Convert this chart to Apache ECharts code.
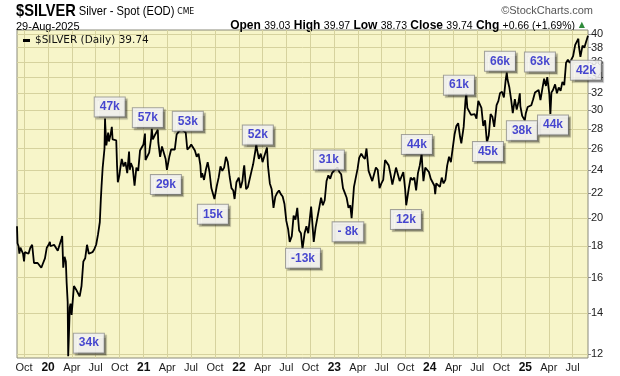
<!DOCTYPE html>
<html>
<head>
<meta charset="utf-8">
<script src="https://cdn.jsdelivr.net/npm/echarts@6/dist/echarts.min.js"></script>
<style>
  html, body { margin: 0; padding: 0; background: #fff; }
  #chart { width: 620px; height: 376px; }
</style>
</head>
<body>
<div id="chart"></div>
<script>
// closes (roughly weekly, extra points on the spikes)
const prices = [
  ["2019-09-04", 19.4], ["2019-09-06", 18.2], ["2019-09-10", 18.0], ["2019-09-13", 17.5], ["2019-09-17", 17.9],
  ["2019-09-20", 17.9], ["2019-09-24", 18.0], ["2019-09-27", 17.5], ["2019-10-01", 17.0], ["2019-10-04", 17.6],
  ["2019-10-11", 17.5], ["2019-10-18", 17.5], ["2019-10-25", 17.9], ["2019-11-01", 18.1], ["2019-11-08", 16.9],
  ["2019-11-15", 16.9], ["2019-11-22", 16.9], ["2019-11-29", 17.0], ["2019-12-06", 16.6], ["2019-12-13", 16.9],
  ["2019-12-20", 17.2], ["2019-12-27", 17.9],
  ["2020-01-03", 18.1], ["2020-01-08", 18.3], ["2020-01-10", 18.0], ["2020-01-17", 18.0], ["2020-01-24", 18.1],
  ["2020-01-31", 18.0], ["2020-02-07", 17.7], ["2020-02-14", 17.6], ["2020-02-21", 18.5], ["2020-02-24", 18.7],
  ["2020-02-28", 16.6], ["2020-03-04", 17.3], ["2020-03-09", 17.0], ["2020-03-12", 15.7], ["2020-03-16", 14.6],
  ["2020-03-18", 11.9], ["2020-03-20", 12.6], ["2020-03-24", 14.3], ["2020-03-27", 14.5], ["2020-03-31", 13.9],
  ["2020-04-03", 14.0], ["2020-04-09", 15.5], ["2020-04-17", 15.3], ["2020-04-24", 15.2], ["2020-05-01", 14.9],
  ["2020-05-08", 15.5], ["2020-05-15", 17.0], ["2020-05-22", 17.2], ["2020-05-29", 18.1], ["2020-06-05", 17.5],
  ["2020-06-12", 17.6], ["2020-06-19", 17.6], ["2020-06-26", 17.8], ["2020-07-03", 18.1], ["2020-07-10", 18.8],
  ["2020-07-17", 19.7], ["2020-07-21", 21.5], ["2020-07-24", 22.7], ["2020-07-28", 24.2], ["2020-07-31", 24.3],
  ["2020-08-04", 26.0], ["2020-08-06", 29.1], ["2020-08-07", 28.4], ["2020-08-11", 26.3], ["2020-08-14", 26.4],
  ["2020-08-18", 27.6], ["2020-08-21", 26.7], ["2020-08-28", 27.5], ["2020-09-01", 28.2], ["2020-09-04", 26.9],
  ["2020-09-11", 26.7], ["2020-09-18", 26.8], ["2020-09-21", 24.4], ["2020-09-24", 22.9], ["2020-09-30", 23.5],
  ["2020-10-02", 23.9], ["2020-10-09", 25.0], ["2020-10-16", 24.3], ["2020-10-23", 24.7], ["2020-10-30", 23.7],
  ["2020-11-06", 25.7], ["2020-11-09", 24.0], ["2020-11-13", 24.6], ["2020-11-20", 24.2], ["2020-11-27", 22.6],
  ["2020-11-30", 22.6], ["2020-12-04", 24.2], ["2020-12-11", 23.9], ["2020-12-18", 25.8], ["2020-12-24", 25.9],
  ["2020-12-31", 26.4],
  ["2021-01-06", 27.5], ["2021-01-08", 24.9], ["2021-01-15", 24.8], ["2021-01-22", 25.6], ["2021-01-29", 26.9],
  ["2021-02-01", 28.0], ["2021-02-05", 26.9], ["2021-02-12", 27.3], ["2021-02-19", 27.2], ["2021-02-24", 27.9],
  ["2021-02-26", 26.6], ["2021-03-05", 25.2], ["2021-03-12", 26.2], ["2021-03-19", 26.3], ["2021-03-26", 25.0],
  ["2021-03-31", 24.0], ["2021-04-09", 25.2], ["2021-04-16", 25.9], ["2021-04-23", 26.0], ["2021-04-30", 25.9],
  ["2021-05-07", 27.4], ["2021-05-14", 27.4], ["2021-05-18", 27.8], ["2021-05-21", 27.6], ["2021-05-28", 27.9],
  ["2021-06-04", 27.7], ["2021-06-11", 27.6], ["2021-06-17", 25.9], ["2021-06-25", 26.1], ["2021-07-02", 26.4],
  ["2021-07-09", 26.1], ["2021-07-16", 25.8], ["2021-07-23", 25.2], ["2021-07-30", 25.5], ["2021-08-06", 24.4],
  ["2021-08-09", 23.3], ["2021-08-13", 23.7], ["2021-08-20", 23.1], ["2021-08-27", 24.0], ["2021-09-03", 24.7],
  ["2021-09-10", 23.8], ["2021-09-17", 22.4], ["2021-09-24", 22.5], ["2021-09-29", 21.5], ["2021-10-08", 22.6],
  ["2021-10-15", 23.3], ["2021-10-22", 24.3], ["2021-10-29", 23.9], ["2021-11-05", 24.2], ["2021-11-12", 25.2],
  ["2021-11-16", 25.3], ["2021-11-19", 24.7], ["2021-11-26", 23.4], ["2021-12-03", 22.4], ["2021-12-10", 22.2],
  ["2021-12-15", 21.5], ["2021-12-22", 22.9], ["2021-12-31", 23.3],
  ["2022-01-07", 22.4], ["2022-01-14", 23.0], ["2022-01-19", 24.1], ["2022-01-21", 24.4], ["2022-01-28", 22.3],
  ["2022-02-04", 22.5], ["2022-02-11", 23.2], ["2022-02-18", 23.9], ["2022-02-24", 24.5], ["2022-03-04", 25.7],
  ["2022-03-08", 26.4], ["2022-03-11", 25.9], ["2022-03-18", 25.0], ["2022-03-25", 25.5], ["2022-04-01", 24.7],
  ["2022-04-08", 24.8], ["2022-04-18", 26.1], ["2022-04-22", 24.3], ["2022-04-29", 22.8], ["2022-05-06", 22.3],
  ["2022-05-13", 20.8], ["2022-05-20", 21.7], ["2022-05-27", 22.0], ["2022-06-03", 22.2], ["2022-06-10", 21.9],
  ["2022-06-17", 21.7], ["2022-06-24", 21.1], ["2022-07-01", 19.8], ["2022-07-08", 19.2], ["2022-07-14", 18.3],
  ["2022-07-22", 18.7], ["2022-07-29", 20.2], ["2022-08-05", 19.9], ["2022-08-12", 20.8], ["2022-08-19", 19.1],
  ["2022-08-26", 18.9], ["2022-09-01", 17.8], ["2022-09-09", 18.9], ["2022-09-16", 19.4], ["2022-09-23", 18.9],
  ["2022-09-30", 19.0], ["2022-10-04", 20.9], ["2022-10-07", 20.1], ["2022-10-14", 18.3], ["2022-10-21", 19.3],
  ["2022-10-28", 19.2], ["2022-11-04", 20.8], ["2022-11-11", 21.6], ["2022-11-18", 21.0], ["2022-11-25", 21.4],
  ["2022-12-02", 23.0], ["2022-12-09", 23.5], ["2022-12-16", 23.2], ["2022-12-23", 23.7], ["2022-12-30", 23.9],
  ["2023-01-06", 23.9], ["2023-01-13", 24.2], ["2023-01-20", 23.8], ["2023-01-27", 23.6], ["2023-02-03", 22.4],
  ["2023-02-10", 22.0], ["2023-02-17", 21.6], ["2023-02-24", 20.8], ["2023-03-03", 21.0], ["2023-03-08", 20.0],
  ["2023-03-10", 20.5], ["2023-03-17", 22.5], ["2023-03-24", 23.3], ["2023-03-31", 24.1], ["2023-04-06", 25.1],
  ["2023-04-14", 25.5], ["2023-04-21", 25.2], ["2023-04-28", 25.0], ["2023-05-04", 26.0], ["2023-05-12", 23.9],
  ["2023-05-19", 23.8], ["2023-05-26", 23.0], ["2023-06-02", 23.6], ["2023-06-09", 24.2], ["2023-06-16", 24.0],
  ["2023-06-23", 22.4], ["2023-06-30", 22.8], ["2023-07-07", 23.1], ["2023-07-14", 24.9], ["2023-07-20", 25.0],
  ["2023-07-28", 24.4], ["2023-08-04", 23.6], ["2023-08-11", 22.7], ["2023-08-18", 22.8], ["2023-08-25", 24.2],
  ["2023-09-01", 24.2], ["2023-09-08", 23.0], ["2023-09-15", 23.0], ["2023-09-22", 23.8], ["2023-09-29", 22.3],
  ["2023-10-03", 21.0], ["2023-10-06", 21.4], ["2023-10-13", 22.4], ["2023-10-20", 23.3], ["2023-10-27", 23.1],
  ["2023-11-03", 23.3], ["2023-11-10", 22.2], ["2023-11-17", 23.7], ["2023-11-24", 24.4], ["2023-12-01", 25.5],
  ["2023-12-04", 24.3], ["2023-12-08", 23.0], ["2023-12-15", 24.2], ["2023-12-22", 24.2], ["2023-12-29", 23.8],
  ["2024-01-05", 23.2], ["2024-01-12", 23.2], ["2024-01-19", 22.6], ["2024-01-22", 21.9], ["2024-01-26", 22.8],
  ["2024-02-02", 22.8], ["2024-02-09", 22.5], ["2024-02-16", 23.3], ["2024-02-23", 22.8], ["2024-03-01", 23.1],
  ["2024-03-08", 24.4], ["2024-03-15", 25.2], ["2024-03-22", 24.7], ["2024-03-28", 24.8], ["2024-04-05", 27.4],
  ["2024-04-12", 28.3], ["2024-04-19", 28.6], ["2024-04-26", 27.2], ["2024-05-01", 26.5], ["2024-05-03", 26.6],
  ["2024-05-10", 28.2], ["2024-05-17", 31.2], ["2024-05-20", 32.0], ["2024-05-24", 30.3], ["2024-05-31", 30.4],
  ["2024-06-07", 29.5], ["2024-06-14", 29.6], ["2024-06-21", 29.6], ["2024-06-28", 29.1], ["2024-07-05", 31.1],
  ["2024-07-10", 31.2], ["2024-07-17", 30.3], ["2024-07-24", 28.3], ["2024-07-31", 28.9], ["2024-08-07", 26.6],
  ["2024-08-14", 27.3], ["2024-08-21", 29.6], ["2024-08-28", 29.3], ["2024-09-04", 28.2], ["2024-09-06", 28.0],
  ["2024-09-13", 30.6], ["2024-09-20", 31.1], ["2024-09-26", 32.0], ["2024-10-04", 32.2], ["2024-10-11", 31.5],
  ["2024-10-18", 33.7], ["2024-10-22", 34.6], ["2024-10-25", 33.7], ["2024-11-01", 32.7], ["2024-11-08", 31.2],
  ["2024-11-14", 29.7], ["2024-11-22", 31.3], ["2024-11-29", 30.1], ["2024-12-06", 31.0], ["2024-12-11", 32.0],
  ["2024-12-13", 30.5], ["2024-12-20", 29.4], ["2024-12-30", 28.9],
  ["2025-01-03", 29.7], ["2025-01-10", 30.4], ["2025-01-17", 30.4], ["2025-01-24", 30.6], ["2025-01-31", 31.3],
  ["2025-02-07", 32.1], ["2025-02-14", 32.1], ["2025-02-21", 32.4], ["2025-02-28", 31.2], ["2025-03-07", 32.5],
  ["2025-03-14", 33.8], ["2025-03-21", 32.9], ["2025-03-26", 34.0], ["2025-03-28", 34.2], ["2025-04-03", 31.9],
  ["2025-04-07", 29.6], ["2025-04-11", 32.1], ["2025-04-17", 32.4], ["2025-04-25", 33.1], ["2025-05-02", 32.0],
  ["2025-05-09", 32.7], ["2025-05-16", 32.3], ["2025-05-23", 33.4], ["2025-05-30", 33.0], ["2025-06-06", 35.9],
  ["2025-06-13", 36.3], ["2025-06-20", 35.9], ["2025-06-27", 36.0], ["2025-07-03", 36.8], ["2025-07-11", 38.4],
  ["2025-07-18", 38.2], ["2025-07-23", 39.3], ["2025-07-25", 38.2], ["2025-07-31", 36.7], ["2025-08-08", 38.3],
  ["2025-08-15", 38.0], ["2025-08-22", 38.9], ["2025-08-27", 38.7], ["2025-08-29", 39.74]
];

// right axis (log scale) tick values
const yTicks = [12, 14, 16, 18, 20, 22, 24, 26, 28, 30, 32, 34, 36, 38, 40];

// bottom axis: quarter starts
const xTicks = [
  "2019-10-01", "2020-01-01", "2020-04-01", "2020-07-01", "2020-10-01", "2021-01-01", "2021-04-01", "2021-07-01",
  "2021-10-01", "2022-01-01", "2022-04-01", "2022-07-01", "2022-10-01", "2023-01-01", "2023-04-01", "2023-07-01",
  "2023-10-01", "2024-01-01", "2024-04-01", "2024-07-01", "2024-10-01", "2025-01-01", "2025-04-01", "2025-07-01"
];
const monthNames = ["Jan", "Feb", "Mar", "Apr", "May", "Jun", "Jul", "Aug", "Sep", "Oct", "Nov", "Dec"];

// annotation boxes (where the box sits, in date / price)
const noteText = ["34k", "47k", "57k", "29k", "53k", "15k", "52k", "-13k", "31k", "- 8k",
  "12k", "44k", "61k", "45k", "66k", "38k", "63k", "44k", "42k"];
const noteDate = ["2020-06-05", "2020-08-24", "2021-01-17", "2021-03-27", "2021-06-19", "2021-09-23",
  "2022-03-14", "2022-09-03", "2022-12-11", "2023-02-22", "2023-10-02", "2023-11-13", "2024-04-22",
  "2024-08-11", "2024-09-26", "2024-12-19", "2025-02-26", "2025-04-17", "2025-08-21"];
const notePrice = [12.5, 30.4, 29.2, 22.7, 28.8, 20.3, 27.35, 17.2, 24.9, 19.0,
  19.9, 26.4, 33.0, 25.7, 36.1, 27.8, 36.0, 28.4, 34.9];

const seriesName = "$SILVER (Daily) 39.74";
const pxPerLn = 265.8; // pixels per unit of ln(price) on the right axis

// "YYYY-MM-DD" -> local timestamp
function ts(s) {
  const p = s.split("-");
  return new Date(+p[0], +p[1] - 1, +p[2]).getTime();
}

let chart = echarts.init(document.getElementById("chart"));

let option = {
  animation: false,
  backgroundColor: "#ffffff",
  textStyle: { fontFamily: "Liberation Sans, Arial, sans-serif" },
  grid: {
    left: 17, right: 32, top: 30, bottom: 18,
    show: true,
    backgroundColor: "#f7f5c9",
    borderColor: "#8a8a7a",
    borderWidth: 1
  },
  legend: {
    left: 18, top: 30,
    icon: "rect",
    itemWidth: 7, itemHeight: 3, itemGap: 4,
    data: [seriesName],
    textStyle: { fontFamily: "DejaVu Sans, Verdana, sans-serif", fontSize: 10.5, color: "#111" }
  },
  xAxis: {
    type: "value",
    min: ts("2019-09-04"),
    max: ts("2025-08-29"),
    axisLine: { show: false },
    axisTick: { show: true, length: 0, customValues: xTicks.map(ts) },
    splitLine: { show: true, lineStyle: { color: "#d6d29e", width: 1 } },
    axisLabel: {
      customValues: xTicks.map(ts),
      margin: 4,
      color: "#222",
      fontSize: 11,
      formatter: function (v) {
        const d = new Date(v);
        if (d.getMonth() === 0) return "{yr|" + String(d.getFullYear()).slice(2) + "}";
        return monthNames[d.getMonth()];
      },
      rich: { yr: { fontWeight: "bold", fontSize: 12, color: "#111" } }
    }
  },
  yAxis: {
    type: "value",
    position: "right",
    min: Math.log(12) - 4 / pxPerLn,
    max: Math.log(40) + 4 / pxPerLn,
    axisLine: { show: false },
    axisTick: { show: true, length: 3, lineStyle: { color: "#888" }, customValues: yTicks.map(Math.log) },
    splitLine: { show: true, lineStyle: { color: "#d6d29e", width: 1 } },
    axisLabel: {
      customValues: yTicks.map(Math.log),
      margin: 3,
      color: "#222",
      fontSize: 11,
      formatter: function (v) { return Math.round(Math.exp(v)); }
    }
  },
  graphic: [
    {
      type: "text", left: 16, top: 3, scaleX: 0.86,
      style: {
        text: "{a|$SILVER} {b|Silver - Spot (EOD)} {c|CME}",
        rich: {
          a: { fontFamily: "Liberation Sans, Arial", fontWeight: "bold", fontSize: 17, fill: "#000" },
          b: { fontFamily: "Liberation Sans, Arial", fontSize: 13, fill: "#000" },
          c: { fontFamily: "DejaVu Sans, sans-serif", fontSize: 9, fill: "#000" }
        }
      }
    },
    {
      type: "text", left: 16, top: 21,
      style: { text: "29-Aug-2025", font: "11px Liberation Sans, Arial", fill: "#000" }
    },
    {
      type: "text", right: 45, top: 20,
      style: {
        text: "{k|Open} {v|39.03} {k|High} {v|39.97} {k|Low} {v|38.73} {k|Close} {v|39.74} {k|Chg} {v|+0.66 (+1.69%)}",
        rich: {
          k: { fontFamily: "Liberation Sans, Arial", fontWeight: "bold", fontSize: 12, fill: "#000" },
          v: { fontFamily: "Liberation Sans, Arial", fontSize: 10.5, fill: "#000" }
        }
      }
    },
    {
      type: "text", right: 35, top: 21,
      style: { text: "\u25B2", font: "8px DejaVu Sans", fill: "#2e8b3a" }
    },
    {
      type: "text", right: 27, top: 5,
      style: { text: "\u00A9StockCharts.com", font: "11px Liberation Sans, Arial", fill: "#555" }
    }
  ],
  series: [
    {
      name: seriesName,
      type: "line",
      data: prices.map(function (p) { return [ts(p[0]), Math.log(p[1])]; }),
      showSymbol: false,
      symbol: "none",
      color: "#000",
      lineStyle: { color: "#000", width: 1.8 },
      z: 3
    },
    {
      type: "scatter",
      silent: true,
      symbolSize: 0,
      z: 5,
      data: noteText.map(function (t, i) {
        return { name: t, value: [ts(noteDate[i]), Math.log(notePrice[i])] };
      }),
      label: {
        show: true,
        position: "inside",
        formatter: "{b}",
        color: "#1a1ac8",
        fontWeight: "bold",
        fontSize: 12,
        fontFamily: "Liberation Sans, Arial, sans-serif",
        backgroundColor: "#ffffff",
        borderColor: "#8c8c8c",
        borderWidth: 1,
        padding: [4, 5, 3, 5],
        shadowColor: "rgba(0,0,0,0.35)",
        shadowBlur: 1,
        shadowOffsetX: 2,
        shadowOffsetY: 2
      }
    }
  ]
};

chart.setOption(option);
</script>
</body>
</html>
